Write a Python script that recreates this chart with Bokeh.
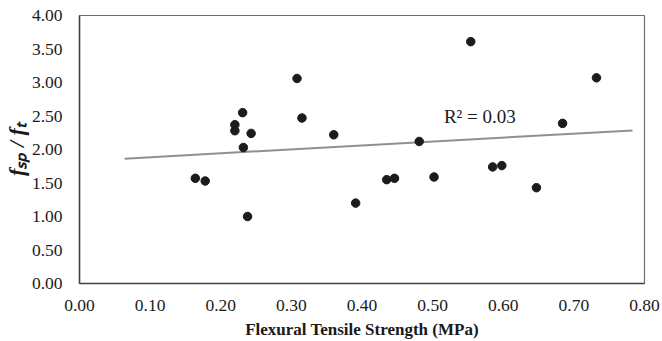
import numpy as np
from bokeh.plotting import figure
from bokeh.models import Range1d, FixedTicker, PrintfTickFormatter, Label
from bokeh.embed import file_html
from bokeh.resources import INLINE

# Data
flexural_strength = [0.164, 0.178, 0.220, 0.220, 0.231, 0.232, 0.238, 0.243, 0.308, 0.315,
                     0.360, 0.391, 0.435, 0.446, 0.481, 0.502, 0.554, 0.585, 0.598, 0.647,
                     0.684, 0.732]
ratio = [1.57, 1.53, 2.37, 2.28, 2.55, 2.03, 1.00, 2.24, 3.06, 2.47,
         2.22, 1.20, 1.55, 1.57, 2.12, 1.59, 3.61, 1.74, 1.76, 1.43,
         2.39, 3.07]
trend_x = [0.064, 0.783]
trend_y = [1.863, 2.285]
x_ticks = [0.0, 0.1, 0.2, 0.3, 0.4, 0.5, 0.6, 0.7, 0.8]
y_ticks = [0.0, 0.5, 1.0, 1.5, 2.0, 2.5, 3.0, 3.5, 4.0]
r2_text = "R\u00b2 = 0.03"
x_title = "Flexural Tensile Strength (MPa)"
y_title = "f\u209b\u209a / f\u209c"

FONT = "Liberation Serif"

p = figure(width=662, height=341, output_backend="svg", toolbar_location=None,
           x_range=Range1d(0, 0.8), y_range=Range1d(0, 4),
           min_border_left=78, min_border_right=18, min_border_top=15, min_border_bottom=57)
p.grid.visible = False
p.outline_line_color = "#6e6e6e"
p.outline_line_width = 1.2
p.background_fill_color = "white"
p.border_fill_color = "white"

p.line(trend_x, trend_y, line_color="#8f8f8f", line_width=2)
p.scatter(flexural_strength, ratio, size=8.5, fill_color="#1c1c1c", line_color="#1c1c1c")

for ax in (p.xaxis[0], p.yaxis[0]):
    ax.major_tick_line_color = None
    ax.minor_tick_line_color = None
    ax.axis_line_color = "#404040"
    ax.axis_line_width = 1.5
    ax.major_label_text_font = FONT
    ax.major_label_text_font_size = "17.5px"
    ax.major_label_text_color = "#1a1a1a"
    ax.formatter = PrintfTickFormatter(format="%.2f")

p.xaxis.ticker = FixedTicker(ticks=x_ticks)
p.yaxis.ticker = FixedTicker(ticks=y_ticks)
p.xaxis.major_label_standoff = 10
p.yaxis.major_label_standoff = 11
p.xaxis.axis_label = x_title
p.xaxis.axis_label_text_font = FONT
p.xaxis.axis_label_text_font_style = "bold"
p.xaxis.axis_label_text_font_size = "17px"
p.xaxis.axis_label_text_color = "#1a1a1a"
p.xaxis.axis_label_standoff = 6

p.yaxis.axis_label = y_title
p.yaxis.axis_label_text_font = FONT
p.yaxis.axis_label_text_font_style = "bold italic"
p.yaxis.axis_label_text_font_size = "22px"
p.yaxis.axis_label_text_color = "#1a1a1a"
p.yaxis.axis_label_standoff = 0

# R^2 annotation
p.add_layout(Label(x=0.516, y=2.50, text=r2_text, text_font=FONT, text_font_size="19px",
                   text_color="#1a1a1a", text_baseline="alphabetic", text_align="left"))

open("out.html", "w").write(file_html(p, INLINE))
